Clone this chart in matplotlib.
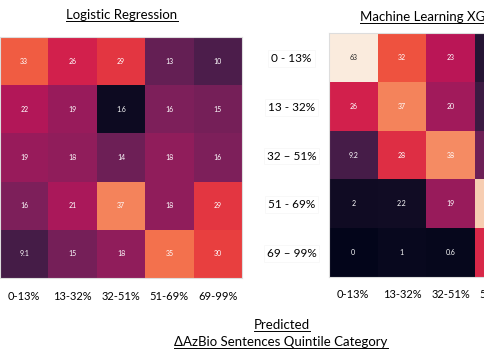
import matplotlib
matplotlib.use("Agg")
import matplotlib.pyplot as plt
import seaborn as sns
import numpy as np
from matplotlib.lines import Line2D

plt.rcParams['font.family'] = ['Lato', 'DejaVu Sans']

# quintile categories
x_labels = ["0-13%", "13-32%", "32-51%", "51-69%", "69-99%"]
y_labels = ["0 - 13%", "13 - 32%", "32 \u2013 51%", "51 - 69%", "69 \u2013 99%"]

# column percentages, logistic regression
logistic = [
    [33, 26, 29, 13, 10],
    [22, 19, 1.6, 16, 15],
    [19, 18, 14, 18, 16],
    [16, 21, 37, 18, 29],
    [9.1, 15, 18, 35, 30],
]
# column percentages, xgboost (last two columns mostly off-picture, estimated)
xgboost = [
    [63, 32, 23, 5, 1],
    [26, 37, 20, 8, 3],
    [9.2, 28, 38, 14, 9],
    [2, 2.2, 19, 46, 32],
    [0, 1, 0.6, 27, 55],
]

W, H = 485, 360
fig = plt.figure(figsize=(W / 100, H / 100), dpi=100)


def px_axes(x0, y0, x1, y1):
    # pixel box (top-left origin) -> figure axes
    return fig.add_axes([x0 / W, 1 - y1 / H, (x1 - x0) / W, (y1 - y0) / H])


ax1 = px_axes(0, 37, 242, 278)
ax2 = px_axes(329, 33, 572, 277)

for ax, data in [(ax1, logistic), (ax2, xgboost)]:
    sns.heatmap(np.array(data), ax=ax, cmap="rocket", vmin=0, vmax=50, cbar=False,
                annot=True, fmt=".2g", annot_kws={"size": 5},
                xticklabels=x_labels, yticklabels=False)
    ax.set_xticklabels(x_labels, rotation=0)
    ax.tick_params(axis="x", length=0, pad=9, labelsize=8)
    for s in ax.spines.values():
        s.set_visible(True)
        s.set_color("#dddddd")
        s.set_linewidth(0.8)

ax2.set_yticks(np.arange(5) + 0.5)
ax2.set_yticklabels(y_labels, rotation=0, ha="center", fontsize=8.5,
                    bbox=dict(facecolor="white", edgecolor="#f6f6f6", linewidth=0.5, pad=2))
ax2.tick_params(axis="y", length=0, pad=27)

t1 = fig.text(122 / W, 1 - 15 / H, "Logistic Regression", ha="center", va="center", fontsize=9.5)
t2 = fig.text(360 / W, 1 - 17 / H, "Machine Learning XGBoost", ha="left", va="center", fontsize=9.5)
t3 = fig.text(282 / W, 1 - 325 / H, "Predicted", ha="center", va="center", fontsize=9.5)
t4 = fig.text(281 / W, 1 - 342 / H, "\u0394AzBio Sentences Quintile Category",
              ha="center", va="center", fontsize=9.5)

# underline the titles
fig.canvas.draw()
r = fig.canvas.get_renderer()
for t in [t1, t2, t3, t4]:
    bb = t.get_window_extent(r).transformed(fig.transFigure.inverted())
    y = bb.y0 + 0.4 / H
    fig.add_artist(Line2D([bb.x0, bb.x1], [y, y], color="black", linewidth=0.7,
                          transform=fig.transFigure))

fig.savefig("out.png", dpi=100)
